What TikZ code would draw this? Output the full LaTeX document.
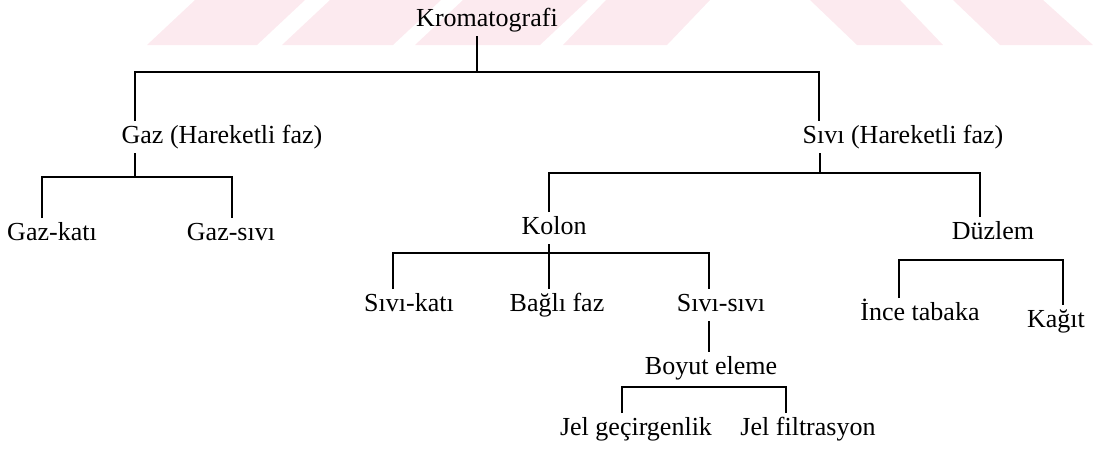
\documentclass[tikz,border=0pt]{standalone}
\usepackage{fontspec}
\setmainfont{Liberation Serif}
\definecolor{wmark}{RGB}{252,234,239}
\tikzset{lbl/.style={anchor=base,inner sep=3pt,text height=.9em,text depth=.25em,
  font=\fontsize{14.8}{17}\selectfont}}

\begin{document}
\begin{tikzpicture}[x=0.02cm,y=-0.02cm,line width=.8pt]
 \useasboundingbox (0,0) rectangle (1104,453);
 % watermark
 \fill[wmark] (147,45)--(257,45)--(305,0)--(195,0)--cycle;
 \fill[wmark] (282,45)--(393,45)--(441,0)--(330,0)--cycle;
 \fill[wmark] (415,45)--(540,45)--(588,0)--(463,0)--cycle;
 \fill[wmark] (563,45)--(667,45)--(710,0)--(606,0)--cycle;
 \fill[wmark] (810,0)--(900,0)--(943,45)--(857,45)--cycle;
 \fill[wmark] (953,0)--(1043,0)--(1093,45)--(1000,45)--cycle;
 % labels
 \node[lbl] (krom) at (487,26) {Kromatografi};
 \node[lbl] (gaz) at (222,143) {Gaz (Hareketli faz)};
 \node[lbl] (sivi) at (903,143) {Sıvı (Hareketli faz)};
 \node[lbl] (gazkati) at (52,240) {Gaz-katı};
 \node[lbl] (gazsivi) at (231,240) {Gaz-sıvı};
 \node[lbl] (kolon) at (554,234) {Kolon};
 \node[lbl] (duzlem) at (993,239) {Düzlem};
 \node[lbl] (sivikati) at (409,311) {Sıvı-katı};
 \node[lbl] (bagli) at (557,311) {Bağlı faz};
 \node[lbl] (sivisivi) at (721,311) {Sıvı-sıvı};
 \node[lbl] (boyut) at (711,374) {Boyut eleme};
 \node[lbl] (jelgec) at (636,435) {Jel geçirgenlik};
 \node[lbl] (jelfil) at (808,435) {Jel filtrasyon};
 \node[lbl] (ince) at (920,320) {İnce tabaka};
 \node[lbl] (kagit) at (1056,327) {Kağıt};
 % bars
 \coordinate (t0) at (477,72); \coordinate (t1) at (135,72); \coordinate (t2) at (819,72);
 \coordinate (g0) at (135,177); \coordinate (g1) at (42,177); \coordinate (g2) at (232,177);
 \coordinate (s0) at (820,173); \coordinate (s1) at (549,173); \coordinate (s2) at (980,173);
 \coordinate (k0) at (549,253); \coordinate (k1) at (393,253); \coordinate (k2) at (709,253);
 \coordinate (d1) at (899,260); \coordinate (d2) at (1063,260);
 \coordinate (e1) at (622,387); \coordinate (e2) at (786,387);
 % connectors
 \draw (krom.south -| t0) -- (t0);
 \draw (gaz.north -| t1) -- (t1) -- (t2) -- (sivi.north -| t2);
 \draw (gaz.south -| g0) -- (g0);
 \draw (gazkati.north -| g1) -- (g1) -- (g2) -- (gazsivi.north -| g2);
 \draw (sivi.south -| s0) -- (s0);
 \draw (kolon.north -| s1) -- (s1) -- (s2) -- (duzlem.north -| s2);
 \draw (kolon.south -| k0) -- (bagli.north -| k0);
 \draw (sivikati.north -| k1) -- (k1) -- (k2) -- (sivisivi.north -| k2);
 \draw (sivisivi.south -| k2) -- (boyut.north -| k2);
 \draw (ince.north -| d1) -- (d1) -- (d2) -- (kagit.north -| d2);
 \draw (jelgec.north -| e1) -- (e1) -- (e2) -- (jelfil.north -| e2);
\end{tikzpicture}
\end{document}
